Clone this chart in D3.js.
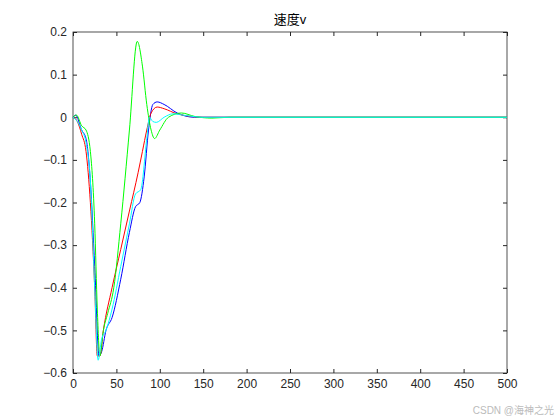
<!DOCTYPE html>
<html><head><meta charset="utf-8">
<script src="https://cdn.jsdelivr.net/npm/d3@7"></script>
<style>body{margin:0;background:#fff}text{font-family:Arial,"Liberation Sans","Noto Sans CJK SC",sans-serif}</style>
</head><body><svg id="c" width="560" height="420"></svg>
<script>
const blue = [[0,0],[3,0.005],[10,-0.03],[15,-0.05],[20,-0.15],[25,-0.35],[30,-0.56],[33,-0.55],[38,-0.5],[45,-0.47],[55,-0.38],[65,-0.27],[72,-0.21],[77,-0.2],[82,-0.14],[87,-0.03],[92,0.03],[97,0.036],[105,0.03],[120,0.01],[140,0],[500,0]]
const red = [[0,0],[5,-0.01],[10,-0.04],[15,-0.08],[20,-0.2],[25,-0.4],[28,-0.56],[31,-0.56],[35,-0.5],[45,-0.4],[55,-0.31],[65,-0.22],[75,-0.13],[80,-0.08],[85,-0.03],[90,0.01],[97,0.024],[105,0.02],[120,0.008],[150,0],[500,0]]
const green = [[0,0],[4,0.005],[10,-0.02],[15,-0.03],[20,-0.08],[25,-0.25],[28,-0.45],[31,-0.56],[35,-0.5],[40,-0.46],[47,-0.4],[55,-0.25],[65,-0.03],[74,0.178],[80,0.12],[85,0.03],[90,-0.03],[94,-0.05],[100,-0.03],[110,0],[125,0.01],[140,0.002],[160,-0.002],[180,0],[500,0]]
const cyan = [[0,0],[5,-0.01],[10,-0.03],[15,-0.06],[20,-0.15],[25,-0.4],[29,-0.57],[33,-0.52],[38,-0.5],[45,-0.45],[55,-0.35],[65,-0.25],[72,-0.18],[78,-0.17],[85,-0.05],[88,0],[92,-0.01],[96,-0.012],[105,0],[115,0.008],[130,0.004],[150,0],[500,0]]
const series = [{d: blue, c: "#0000ff"}, {d: red, c: "#ff0000"}, {d: green, c: "#00ff00"}, {d: cyan, c: "#00ffff"}]
const xTicks = d3.range(0, 501, 50)
const yTicks = d3.range(-0.6, 0.21, 0.1)

const svg = d3.select("#c")
const L = 73, R = 507, T = 32, B = 373
const x = d3.scaleLinear().domain([0, 500]).range([L, R])
const y = d3.scaleLinear().domain([-0.6, 0.2]).range([B, T])

svg.append("rect").attr("x", L).attr("y", T).attr("width", R - L).attr("height", B - T)
  .attr("fill", "#fff").attr("stroke", "#262626").attr("stroke-width", 0.8)

const ax = g => g.selectAll(".domain").remove()
svg.append("g").attr("transform", `translate(0,${B})`)
  .call(d3.axisBottom(x).tickValues(xTicks).tickSizeInner(-4).tickSizeOuter(0).tickPadding(6)).call(ax)
svg.append("g").attr("transform", `translate(0,${T})`)
  .call(d3.axisTop(x).tickValues(xTicks).tickSizeInner(-4).tickSizeOuter(0).tickFormat("")).call(ax)
svg.append("g").attr("transform", `translate(${L},0)`)
  .call(d3.axisLeft(y).tickValues(yTicks).tickSizeInner(-4).tickSizeOuter(0).tickPadding(6).tickFormat(d => Math.abs(d) < 1e-9 ? "0" : d3.format(".1f")(d))).call(ax)
svg.append("g").attr("transform", `translate(${R},0)`)
  .call(d3.axisRight(y).tickValues(yTicks).tickSizeInner(-4).tickSizeOuter(0).tickFormat("")).call(ax)
svg.selectAll(".tick line").attr("stroke", "#262626")
svg.selectAll(".tick text").attr("font-size", 12).attr("fill", "#262626")

const line = d3.line().x(d => x(d[0])).y(d => y(d[1])).curve(d3.curveMonotoneX)
series.forEach(s => {
  svg.append("path").attr("d", line(s.d)).attr("fill", "none").attr("stroke", s.c).attr("stroke-width", 1)
})

svg.append("text").attr("x", (L + R) / 2).attr("y", 24).attr("text-anchor", "middle")
  .attr("font-size", 13).attr("fill", "#000").text("速度v")
svg.append("text").attr("x", 554).attr("y", 414).attr("text-anchor", "end")
  .attr("font-size", 10).attr("fill", "#bbb").text("CSDN @海神之光")
</script></body></html>
